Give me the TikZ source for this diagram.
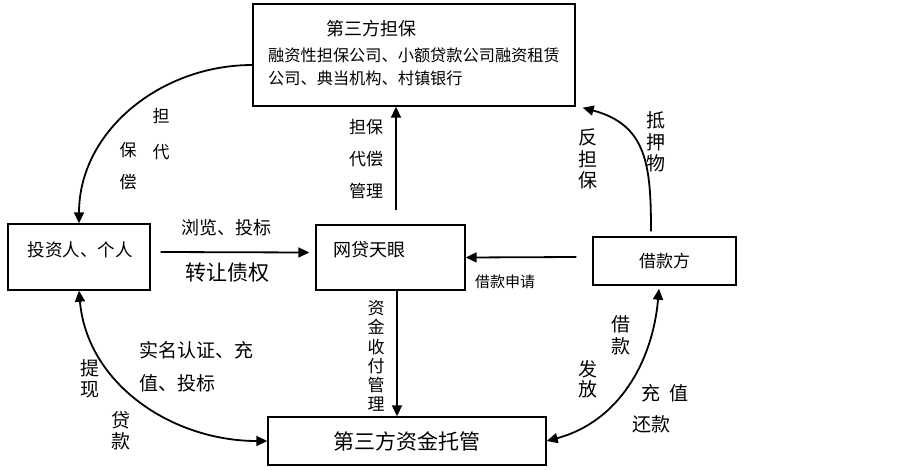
\documentclass[tikz,border=0pt]{standalone}
\usepackage{fontspec}
\usepackage{tikz}
\usetikzlibrary{calc,arrows.meta}
\newfontfamily\cjk{Noto Sans CJK SC}
\def\cjkfs#1#2{\cjk\fontsize{#1}{#2}\selectfont}

\begin{document}
\begin{tikzpicture}[x=10pt, y=-10pt,
	every node/.style={inner sep=0pt},
	box/.style={draw, line width=1.4pt},
	arr/.style={line width=1.8pt, -{Triangle[length=11pt,width=10pt]}},
	dblarr/.style={line width=1.8pt, {Triangle[length=11pt,width=10pt]}-{Triangle[length=11pt,width=10pt]}}]
			%%%%% START %%%%%
			\useasboundingbox (0, 0) rectangle (90.3, 46.9);
			
			\node[box, minimum width=322pt, minimum height=102pt] (guar) at (41.4, 5.5) {};
			\node[font=\cjkfs{18}{18}] (guartitle) at (37.1, 2.9) {第三方担保};
			\node[font=\cjkfs{16.2}{23}, align=left, anchor=west] (guartext) at (26.8, 6.65) {融资性担保公司、小额贷款公司融资租赁\\公司、典当机构、村镇银行};
			
			\node[box, minimum width=142pt, minimum height=66pt] (invest) at (7.9, 25.7) {};
			\node[font=\cjkfs{17.5}{17.5}] (investtext) at (8.0, 25.0) {投资人、个人};
			
			\node[box, minimum width=149pt, minimum height=65pt] (p2p) at (39.05, 25.75) {};
			\node[font=\cjkfs{18}{18}] (p2ptext) at (36.9, 25.0) {网贷天眼};
			
			\node[box, minimum width=143pt, minimum height=48pt, font=\cjkfs{17}{17}] (borrower) at (66.45, 26.1) {借款方};
			\node[box, minimum width=278pt, minimum height=48pt, font=\cjkfs{21}{21}] (custody) at (40.7, 44.1) {第三方资金托管};
			
			%%%%% ARROWS %%%%%
			\draw[arr] ([yshift=-10pt]guar.west) to[out=180, in=90] (invest.north);
			\draw[arr] ([shift={(5.5pt,14pt)}]p2p.north) -- ([xshift=5.5pt]p2p.north |- guar.south);
			\draw[arr] ([shift={(10pt,5pt)}]invest.east) -- ([shift={(-6pt,5pt)}]p2p.west);
			\draw[arr] ([shift={(-16pt,4pt)}]borrower.west) -- (p2p.east);
			\draw[arr] ([xshift=6.5pt]p2p.south) -- ([xshift=6.5pt]p2p.south |- custody.north);
			\draw[arr] ([shift={(-13.5pt,5pt)}]borrower.north) to[out=90, in=-15, looseness=1.2] ([shift={(7pt,-1pt)}]guar.south east);
			\draw[dblarr] (invest.south) to[out=-85, in=180] (custody.west);
			\draw[dblarr] ([shift={(-5.5pt,-3pt)}]borrower.south) to[out=-95, in=15] (custody.east);
			
			%%%%% LABELS %%%%%
			\node[font=\cjkfs{17}{36}, align=center] (tagright) at (16.1, 13.4) {担\\代};
			\node[font=\cjkfs{17}{32}, align=center] (tagleft) at (12.8, 16.6) {保\\偿};
			\node[font=\cjkfs{17}{32}, align=center] (guarup) at (36.6, 15.9) {担保\\代偿\\管理};
			\node[font=\cjkfs{18}{18}] (browse) at (22.6, 22.8) {浏览、投标};
			\node[font=\cjkfs{21}{21}] (transfer) at (22.7, 27.3) {转让债权};
			\node[font=\cjkfs{15}{15}] (apply) at (50.5, 28.2) {借款申请};
			\node[font=\cjkfs{17}{19.2}, align=center] (fundmgmt) at (37.6, 35.6) {资\\金\\收\\付\\管\\理};
			\node[font=\cjkfs{19}{21.5}, align=center] (counter) at (58.8, 15.9) {反\\担\\保};
			\node[font=\cjkfs{19}{21.5}, align=center] (pledge) at (65.6, 14.2) {抵\\押\\物};
			\node[font=\cjkfs{19}{21}, align=center] (withdraw) at (9.0, 37.9) {提\\现};
			\node[font=\cjkfs{19}{21}, align=center] (loan) at (12.1, 43.1) {贷\\款};
			\node[font=\cjkfs{19}{33}, align=left, anchor=west] (realname) at (13.9, 36.65) {实名认证、充\\值、投标};
			\node[font=\cjkfs{19}{22}, align=center] (lend) at (62.1, 33.5) {借\\款};
			\node[font=\cjkfs{19}{20}, align=center] (release) at (58.8, 37.9) {发\\放};
			\node[font=\cjkfs{19}{19}] (recharge) at (66.5, 39.3) {充\hspace{10pt}值};
			\node[font=\cjkfs{19}{19}] (repay) at (65.1, 42.4) {还款};
			%%%%% END %%%%%
\end{tikzpicture}
\end{document}
